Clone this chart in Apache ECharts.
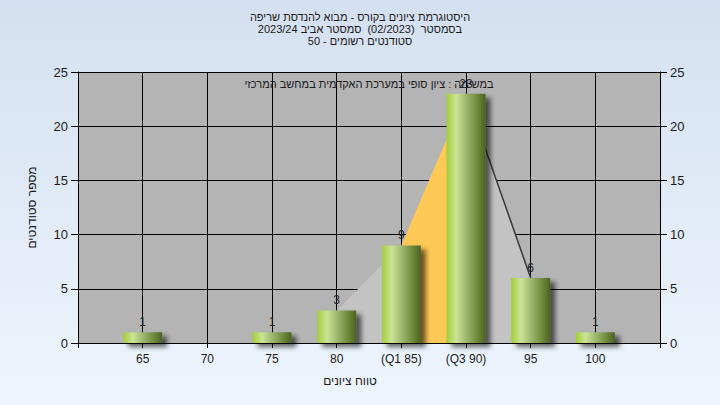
<!DOCTYPE html>
<html>
<head>
<meta charset="utf-8">
<script src="https://cdn.jsdelivr.net/npm/echarts@6/dist/echarts.min.js"></script>
<style>
html,body{margin:0;padding:0;}
#c{width:720px;height:405px;}
</style>
</head>
<body>
<div id="c"></div>
<script>
// ---- data ----
const titleLines = [
  'היסטוגרמת ציונים בקורס - מבוא להנדסת שריפה',
  'בסמסטר  (02/2023)  סמסטר אביב 2023/24',
  'סטודנטים רשומים - 50'
];
const subTitle = 'במשימה : ציון סופי במערכת האקדמית במחשב המרכזי';
const xAxisName = 'טווח ציונים';
const yAxisName = 'מספר סטודנטים';
const scores = [65, 75, 80, 85, 90, 95, 100];
const counts = [1, 1, 3, 9, 23, 6, 1];
const tickValues = [65, 70, 75, 80, 85, 90, 95, 100];
const tickLabels = ['65', '70', '75', '80', '(Q1 85)', '(Q3 90)', '95', '100'];
const q1 = 85, q3 = 90;
const polyLo = 80, polyHi = 95;

// ---- build ----
const countAt = s => { const i = scores.indexOf(s); return i < 0 ? 0 : counts[i]; };
const seg = (a, b) => scores.filter(s => s >= a && s <= b).map(s => [s, countAt(s)]);
const barData = scores.map((s, i) => [s, counts[i]]);

const font = 'Liberation Sans, Arial, sans-serif';
const txt = '#1a1a1a';

const chart = echarts.init(document.getElementById('c'), null, {renderer: 'svg'});
chart.setOption({
  animation: false,
  backgroundColor: new echarts.graphic.LinearGradient(0, 0, 0, 1, [
    {offset: 0, color: '#d4e0f1'}, {offset: 1, color: '#eef5fd'}
  ]),
  textStyle: {fontFamily: font},
  title: {
    text: titleLines.join('\n'),
    left: 'center', top: 6,
    textStyle: {fontSize: 11, fontWeight: 'normal', color: txt, lineHeight: 12, fontFamily: font}
  },
  graphic: [{
    type: 'text', x: 369, y: 84, z: 10,
    style: {text: subTitle, fill: txt, font: '11px ' + font, textAlign: 'center', textVerticalAlign: 'middle'}
  }],
  grid: {left: 78, right: 60, top: 72, bottom: 62, show: true, backgroundColor: '#b4b4b4', borderWidth: 0},
  xAxis: {
    type: 'value', min: 60, max: 105, interval: 5,
    name: xAxisName, nameLocation: 'middle', nameGap: 32,
    nameTextStyle: {fontSize: 12, color: txt, padding: [0, 38, 0, 0]},
    axisLine: {show: true, lineStyle: {color: '#000', width: 1}},
    axisTick: {show: true, length: 5, lineStyle: {color: '#000'}},
    axisLabel: {
      fontSize: 12, color: txt, margin: 10,
      formatter: v => { const i = tickValues.indexOf(v); return i < 0 ? '' : tickLabels[i]; }
    },
    splitLine: {show: true, lineStyle: {color: '#000', width: 1}}
  },
  yAxis: [{
    type: 'value', min: 0, max: 25, interval: 5, position: 'left',
    name: yAxisName, nameLocation: 'middle', nameGap: 40,
    nameTextStyle: {fontSize: 12, color: txt},
    axisLine: {show: true, lineStyle: {color: '#000'}},
    axisTick: {show: true, length: 7, lineStyle: {color: '#000'}},
    axisLabel: {fontSize: 13, color: txt, margin: 10},
    splitLine: {show: true, lineStyle: {color: '#000', width: 1}}
  }, {
    type: 'value', min: 0, max: 25, interval: 5, position: 'right',
    axisLine: {show: true, lineStyle: {color: '#000'}},
    axisTick: {show: true, length: 7, lineStyle: {color: '#000'}},
    axisLabel: {fontSize: 13, color: txt, margin: 10},
    splitLine: {show: false}
  }],
  series: [
    {
      type: 'line', data: seg(polyLo, q1), showSymbol: false, z: 1,
      lineStyle: {width: 0, opacity: 0},
      areaStyle: {color: '#c3c3c3', opacity: 1}
    },
    {
      type: 'line', data: seg(q1, q3), showSymbol: false, z: 1,
      lineStyle: {width: 0, opacity: 0},
      areaStyle: {color: '#ffc957', opacity: 1}
    },
    {
      type: 'line', data: seg(q3, polyHi), showSymbol: false, z: 1,
      lineStyle: {width: 1.5, color: '#3a3a3a'},
      areaStyle: {color: '#c3c3c3', opacity: 1}
    },
    {
      type: 'bar', data: barData, barWidth: 39, z: 3, clip: false,
      itemStyle: {
        color: new echarts.graphic.LinearGradient(0, 0, 1, 0, [
          {offset: 0, color: '#a2cd3a'},
          {offset: 0.25, color: '#cbe494'},
          {offset: 0.5, color: '#a0b872'},
          {offset: 0.8, color: '#6c883a'},
          {offset: 1, color: '#4a6222'}
        ]),
        shadowColor: 'rgba(0,0,0,0.6)', shadowBlur: 5, shadowOffsetX: 5, shadowOffsetY: 4
      },
      label: {show: true, position: 'top', distance: 4, fontSize: 12, color: '#222'}
    }
  ]
});
</script>
</body>
</html>
